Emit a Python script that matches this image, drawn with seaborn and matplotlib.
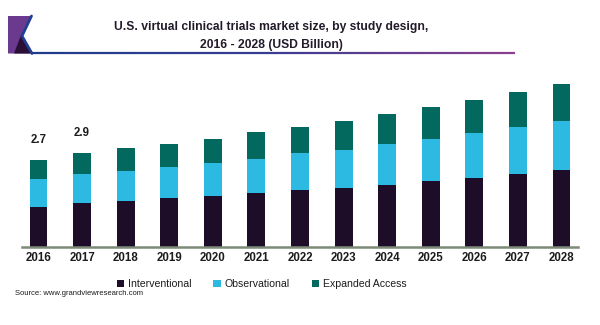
import numpy as np
import pandas as pd
import matplotlib
matplotlib.use("Agg")
import matplotlib.pyplot as plt
from matplotlib.patches import Patch, Polygon
import seaborn as sns

years = ["2016", "2017", "2018", "2019", "2020", "2021", "2022",
         "2023", "2024", "2025", "2026", "2027", "2028"]
interventional = [1.24, 1.35, 1.42, 1.51, 1.58, 1.67, 1.75, 1.82, 1.92, 2.02, 2.14, 2.24, 2.38]
observational = [0.85, 0.91, 0.94, 0.97, 1.02, 1.06, 1.14, 1.19, 1.26, 1.33, 1.39, 1.48, 1.52]
expanded = [0.61, 0.64, 0.69, 0.70, 0.75, 0.82, 0.82, 0.88, 0.92, 0.98, 1.02, 1.08, 1.16]
series_names = ["Interventional", "Observational", "Expanded Access"]
colors = ["#1e0d29", "#2cbae2", "#03695f"]
labelled_years = ["2016", "2017"]

df = pd.DataFrame({"year": years, "int": interventional,
                   "obs": observational, "exp": expanded})
df["lvl1"] = df["int"]
df["lvl2"] = df["int"] + df["obs"]
df["lvl3"] = df["lvl2"] + df["exp"]

sns.set_theme(style="white")
plt.rcParams["font.family"] = ["Liberation Sans", "DejaVu Sans"]

fig = plt.figure(figsize=(6.0, 3.25), dpi=100)
ax = fig.add_axes([0.037, 0.2415, 0.926, 0.54])

# stacked bars: draw cumulative totals from the top segment down
for col, c in zip(["lvl3", "lvl2", "lvl1"], colors[::-1]):
    sns.barplot(data=df, x="year", y=col, order=years, color=c,
                saturation=1, width=0.41, ax=ax, linewidth=0)

ax.set_xlim(-0.374, 12.374)
ax.set_ylim(0, 5.45)
ax.set_xlabel("")
ax.set_ylabel("")
ax.set_yticks([])
for s in ["top", "right", "left"]:
    ax.spines[s].set_visible(False)
ax.spines["bottom"].set_color("#7d8a78")
ax.spines["bottom"].set_linewidth(1.8)
ax.tick_params(axis="x", length=0, pad=4, labelsize=8.3, labelcolor="#1c1c1c")
for t in ax.get_xticklabels():
    t.set_fontweight("bold")

for i, y in enumerate(years):
    if y in labelled_years:
        tot = df.loc[i, "lvl3"]
        ax.annotate(f"{tot:.1f}", (i, tot), xytext=(0, 10), textcoords="offset points",
                    ha="center", va="bottom", fontsize=8.3, fontweight="bold",
                    color="#1c1c1c")

# title block with logo and underline
fig.text(0.452, 0.889, "U.S. virtual clinical trials market size, by study design,\n2016 - 2028 (USD Billion)",
         ha="center", va="center", fontsize=8.7, fontweight="bold", color="#231a2a",
         linespacing=1.6)

lax = fig.add_axes([0, 0, 1, 1], zorder=-1)
lax.set_xlim(0, 600)
lax.set_ylim(325, 0)
lax.axis("off")
# underline gradient blue -> purple
xs = np.linspace(31, 515, 60)
cmap = matplotlib.colors.LinearSegmentedColormap.from_list("u", ["#1d3d8c", "#3a3c92", "#8a3f8e"])
for k in range(len(xs) - 1):
    lax.plot([xs[k], xs[k + 1]], [53, 53], color=cmap(k / (len(xs) - 2)), lw=1.6,
             solid_capstyle="butt")
# logo
lax.add_patch(Polygon([[8, 16], [31, 16], [22, 36], [31, 53.5], [8, 53.5]], closed=True,
                      facecolor="#6a3a8e", edgecolor="none"))
lax.add_patch(Polygon([[21.5, 34], [31, 53.5], [14, 53.5]], closed=True,
                      facecolor="#2a1036", edgecolor="none"))
lax.plot([31.5, 22, 32], [16, 36, 53.5], color="#1f3f95", lw=2.0, solid_joinstyle="miter")

handles = [Patch(facecolor=c, edgecolor="none", label=n) for c, n in zip(colors, series_names)]
fig.legend(handles=handles, loc="center", bbox_to_anchor=(0.436, 0.125), ncol=3,
           frameon=False, fontsize=7.6, handlelength=0.7, handleheight=0.7,
           handletextpad=0.35, columnspacing=2.1, labelcolor="#1c1c1c")

fig.text(0.025, 0.097, "Source: www.grandviewresearch.com", ha="left", va="center",
         fontsize=5.5, color="#1c1c1c")

fig.savefig("out.png", dpi=100, facecolor="white")
